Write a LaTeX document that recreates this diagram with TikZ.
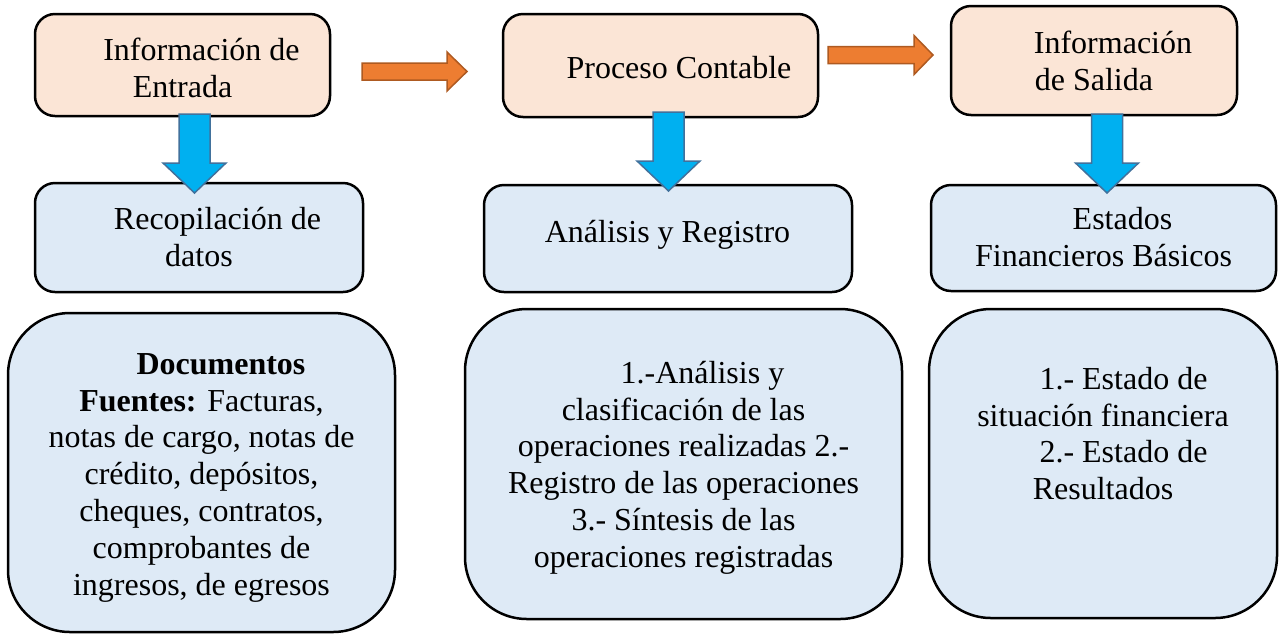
\documentclass[tikz,border=0pt]{standalone}
\usepackage{fontspec}
\setmainfont{Liberation Serif}
\definecolor{boxorange}{HTML}{FBE5D6}
\definecolor{boxblue}{HTML}{DEEAF6}
\definecolor{arrblue}{HTML}{00B0F0}
\definecolor{arrblueline}{HTML}{41719C}
\definecolor{arrorange}{HTML}{ED7D31}
\definecolor{arrorangeline}{HTML}{AE5A21}
\newcommand\bluedown[3]{%
  \draw[bluearr] (#1-15.5,#2) -- (#1+15.5,#2) -- (#1+15.5,#3-30) -- (#1+31.5,#3-30)
    -- (#1,#3) -- (#1-31.5,#3-30) -- (#1-15.5,#3-30) -- cycle;}
\newcommand\orangeright[4]{%
  \draw[orangearr] (#1,#4-8.5) -- (#2,#4-8.5) -- (#2,#4-19.5) -- (#3,#4)
    -- (#2,#4+19.5) -- (#2,#4+8.5) -- (#1,#4+8.5) -- cycle;}
\begin{document}
\begin{tikzpicture}[x=1pt,y=-1pt,
  box/.style={draw=black, line width=2.5pt, rounded corners=20pt, inner sep=0pt},
  topbox/.style={box, fill=boxorange},
  midbox/.style={box, fill=boxblue},
  bigbox/.style={box, fill=boxblue, rounded corners=62pt},
  txt/.style={align=center, anchor=north, inner sep=0pt, font=\fontsize{32}{36.8}\selectfont},
  bluearr/.style={fill=arrblue, draw=arrblueline, line width=1.5pt, line join=miter},
  orangearr/.style={fill=arrorange, draw=arrorangeline, line width=1.5pt, line join=miter}]
\useasboundingbox (0,0) rectangle (1279,633);
% boxes
\node[topbox, minimum width=295pt, minimum height=102pt] (b1) at (182.5,65) {};
\node[midbox, minimum width=328pt, minimum height=109pt] (b2) at (199,237.5) {};
\node[topbox, minimum width=315pt, minimum height=103pt] (b3) at (660.5,65.5) {};
\node[midbox, minimum width=368pt, minimum height=107pt] (b4) at (668,238.5) {};
\node[topbox, minimum width=286pt, minimum height=109pt] (b5) at (1094,60.5) {};
\node[midbox, minimum width=345pt, minimum height=106pt] (b6) at (1103.5,238) {};
\node[bigbox, minimum width=387pt, minimum height=319pt] (b7) at (201.5,472.5) {};
\node[bigbox, minimum width=437pt, minimum height=310pt] (b8) at (683.5,464) {};
\node[bigbox, minimum width=348pt, minimum height=309pt] (b9) at (1103,463.5) {};
% texts
\node[txt] (t1) at (182.5,34.24) {\strut\hspace*{38pt}Información de\\Entrada};
\node[txt] (t2) at (199,203.24) {\strut\hspace*{37pt}Recopilación de\\datos};
\node[txt] (t3) at (660.5,52.24) {\strut\hspace*{37pt}Proceso Contable};
\node[txt] (t4) at (667.5,216.24) {\strut Análisis y Registro};
\node[txt] (t5) at (1094,27.24) {\strut\hspace*{38pt}Información\\de Salida};
\node[txt] (t6) at (1103.5,203.24) {\strut\hspace*{38pt}Estados\\Financieros Básicos};
\node[txt] (t7) at (201.5,348.24) {\strut\hspace*{39pt}\textbf{Documentos}\\\textbf{Fuentes:} Facturas,\\notas de cargo, notas de\\crédito, depósitos,\\cheques, contratos,\\comprobantes de\\ingresos, de egresos};
\node[txt] (t8) at (683.5,357.24) {\strut\hspace*{38pt}1.-Análisis y\\clasificación de las\\operaciones realizadas 2.-\\Registro de las operaciones\\3.- Síntesis de las\\operaciones registradas};
\node[txt] (t9) at (1103,363.24) {\strut\hspace*{41pt}1.- Estado de\\situación financiera\\\hspace*{41pt}2.- Estado de\\Resultados};
% arrows
\bluedown{194.5}{114}{193}
\bluedown{668.5}{112}{191}
\bluedown{1107}{114}{193}
\orangeright{362}{447}{467}{71.5}
\orangeright{828}{914}{933}{55}
\end{tikzpicture}
\end{document}
